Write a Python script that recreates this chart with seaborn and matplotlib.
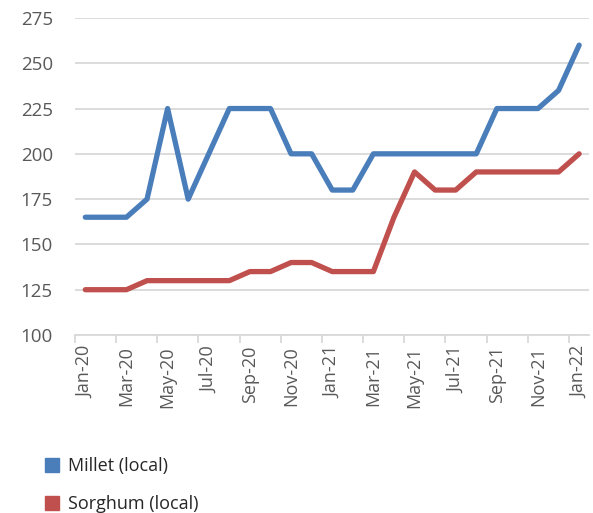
import pandas as pd
import matplotlib.pyplot as plt
import seaborn as sns
from matplotlib.lines import Line2D

months = ['Jan-20', 'Feb-20', 'Mar-20', 'Apr-20', 'May-20', 'Jun-20', 'Jul-20', 'Aug-20',
          'Sep-20', 'Oct-20', 'Nov-20', 'Dec-20', 'Jan-21', 'Feb-21', 'Mar-21', 'Apr-21',
          'May-21', 'Jun-21', 'Jul-21', 'Aug-21', 'Sep-21', 'Oct-21', 'Nov-21', 'Dec-21',
          'Jan-22']
millet = [165, 165, 165, 175, 225, 175, 200, 225, 225, 225, 200, 200, 180, 180, 200, 200,
          200, 200, 200, 200, 225, 225, 225, 235, 260]
sorghum = [125, 125, 125, 130, 130, 130, 130, 130, 135, 135, 140, 140, 135, 135, 135, 165,
           190, 180, 180, 190, 190, 190, 190, 190, 200]
series_names = ['Millet (local)', 'Sorghum (local)']
colors = {'Millet (local)': '#4a7ebb', 'Sorghum (local)': '#c0504d'}

sns.set_theme(style="white")
plt.rcParams['font.family'] = ['Open Sans', 'DejaVu Sans']
text_color = '#595959'
grid_color = '#d9d9d9'

df = pd.DataFrame({
    'idx': list(range(len(months))) * 2,
    'price': millet + sorghum,
    'series': [series_names[0]] * len(months) + [series_names[1]] * len(months),
})

fig = plt.figure(figsize=(5.93, 5.13), dpi=100)
ax = fig.add_axes([0.1265, 0.347, 0.8675, 0.618])

sns.lineplot(data=df, x='idx', y='price', hue='series', palette=colors,
             linewidth=3.8, legend=False, ax=ax)
for line in ax.lines:
    line.set_solid_joinstyle('round')
    line.set_solid_capstyle('round')

ax.set_xlim(-0.5, len(months) - 0.5)
ax.set_ylim(100, 275)
ax.set_yticks(range(100, 276, 25))
ax.yaxis.grid(True, color=grid_color, linewidth=1.3)
ax.set_axisbelow(True)

ax.set_xticks(range(0, len(months), 2))
ax.set_xticklabels(months[::2], rotation=90)
ax.set_xticks([i - 0.5 for i in range(0, len(months), 2)], minor=True)
ax.tick_params(axis='x', which='major', length=0, pad=8, labelsize=13, labelcolor=text_color)
ax.tick_params(axis='x', which='minor', length=6, width=1.3, color=grid_color, bottom=True)
ax.tick_params(axis='y', length=0, pad=16, labelsize=13.5, labelcolor=text_color)
ax.set_xlabel('')
ax.set_ylabel('')

for side in ['left', 'right', 'top']:
    ax.spines[side].set_visible(False)
ax.spines['bottom'].set_color(grid_color)
ax.spines['bottom'].set_linewidth(1.3)

handles = [Line2D([], [], marker='s', linestyle='none', markersize=10,
                  markerfacecolor=colors[n], markeredgecolor=colors[n]) for n in series_names]
fig.legend(handles, series_names, loc='upper left', bbox_to_anchor=(0.045, 0.14),
           frameon=False, fontsize=13, labelcolor='#262626', handletextpad=0.4,
           labelspacing=1.1, handlelength=1.0)

fig.savefig('out.png', dpi=100)
